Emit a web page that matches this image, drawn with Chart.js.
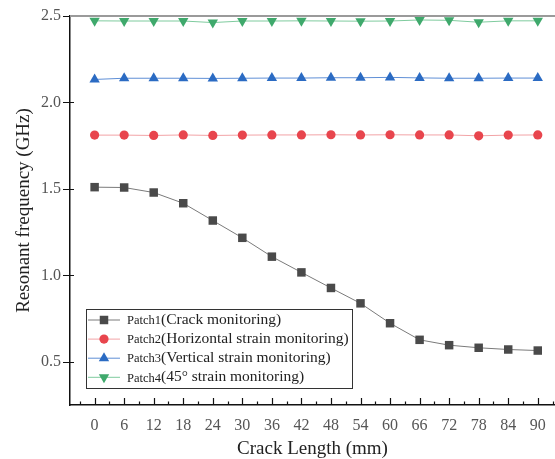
<!DOCTYPE html>
<html>
<head>
<meta charset="utf-8">
<script src="https://cdn.jsdelivr.net/npm/chart.js@4.4.0/dist/chart.umd.min.js"></script>
<style>
html, body { margin: 0; padding: 0; background: #fff; }
#wrap { width: 555px; height: 459px; }
</style>
</head>
<body>
<div id="wrap"><canvas id="myChart" width="555" height="459"></canvas></div>
<script>
// Crack length (mm) on the x axis
const crackLength = [0, 6, 12, 18, 24, 30, 36, 42, 48, 54, 60, 66, 72, 78, 84, 90];

// Resonant frequency (GHz) of each patch
const patch1 = [1.51, 1.508, 1.479, 1.417, 1.317, 1.217, 1.108, 1.017, 0.927, 0.838, 0.723, 0.627, 0.596, 0.581, 0.571, 0.565];
const patch2 = [1.811, 1.811, 1.809, 1.812, 1.809, 1.811, 1.812, 1.812, 1.813, 1.812, 1.813, 1.812, 1.812, 1.807, 1.811, 1.812];
const patch3 = [2.133, 2.14, 2.14, 2.14, 2.139, 2.14, 2.141, 2.141, 2.143, 2.143, 2.145, 2.142, 2.14, 2.14, 2.141, 2.141];
const patch4 = [2.472, 2.471, 2.471, 2.471, 2.462, 2.471, 2.471, 2.472, 2.471, 2.47, 2.471, 2.477, 2.475, 2.464, 2.472, 2.472];

const seriesNames = [
    'Patch1(Crack monitoring)',
    'Patch2(Horizontal strain monitoring)',
    'Patch3(Vertical strain monitoring)',
    'Patch4(45° strain monitoring)'
];

const yTicks = [0.5, 1.0, 1.5, 2.0, 2.5];

const serif = "'Liberation Serif', 'DejaVu Serif', serif";

function points(values) {
    return values.map((v, i) => ({ x: crackLength[i], y: v }));
}

// ticks, top frame line and the boxed legend drawn by hand
const extras = {
    id: 'extras',
    afterDraw(chart) {
        const { ctx, chartArea: a, scales: { x, y } } = chart;
        ctx.save();

        // top frame line (grey)
        ctx.strokeStyle = '#9a9a9a';
        ctx.lineWidth = 2;
        ctx.beginPath();
        ctx.moveTo(a.left, a.top);
        ctx.lineTo(a.right, a.top);
        ctx.stroke();

        ctx.strokeStyle = '#111';
        ctx.lineWidth = 1.2;
        ctx.beginPath();
        // y: major ticks outward, minor ticks inward
        yTicks.forEach((v) => {
            const py = Math.round(y.getPixelForValue(v)) + 0.5;
            ctx.moveTo(a.left - 7, py);
            ctx.lineTo(a.left, py);
        });
        for (let v = y.min + 0.25; v < y.max; v += 0.5) {
            const py = Math.round(y.getPixelForValue(v)) + 0.5;
            ctx.moveTo(a.left, py);
            ctx.lineTo(a.left + 4, py);
        }
        // x: major and minor ticks inward
        crackLength.forEach((v) => {
            const px = Math.round(x.getPixelForValue(v)) + 0.5;
            ctx.moveTo(px, a.bottom);
            ctx.lineTo(px, a.bottom - 7);
        });
        for (let v = -3; v < x.max; v += 6) {
            const px = Math.round(x.getPixelForValue(v)) + 0.5;
            ctx.moveTo(px, a.bottom);
            ctx.lineTo(px, a.bottom - 3.5);
        }
        ctx.stroke();

        // legend box
        const bx = a.left + 16, by = 309, bw = 266, bh = 79;
        ctx.fillStyle = '#fff';
        ctx.fillRect(bx, by, bw, bh);
        ctx.strokeStyle = '#333';
        ctx.lineWidth = 1;
        ctx.strokeRect(bx + 0.5, by + 0.5, bw, bh);

        chart.data.datasets.forEach((ds, i) => {
            const cy = by + 11 + i * 19.1;
            ctx.strokeStyle = ds.borderColor;
            ctx.lineWidth = 1;
            ctx.beginPath();
            ctx.moveTo(bx + 2, cy);
            ctx.lineTo(bx + 34, cy);
            ctx.stroke();
            ctx.fillStyle = ds.pointBackgroundColor;
            ctx.strokeStyle = ds.pointBackgroundColor;
            Chart.helpers.drawPoint(ctx, {
                pointStyle: ds.pointStyle,
                radius: ds.pointRadius,
                rotation: ds.pointRotation || 0,
                borderWidth: 0
            }, bx + 18, cy);

            const cut = ds.label.indexOf('(');
            const head = ds.label.slice(0, cut);
            const tail = ds.label.slice(cut);
            ctx.fillStyle = '#222';
            ctx.textBaseline = 'middle';
            ctx.textAlign = 'left';
            ctx.font = '12.5px ' + serif;
            ctx.fillText(head, bx + 41, cy + 1);
            const w = ctx.measureText(head).width;
            ctx.font = '15.5px ' + serif;
            ctx.fillText(tail, bx + 41 + w, cy);
        });

        ctx.restore();
    }
};

const ctx = document.getElementById('myChart').getContext('2d');

const myChart = new Chart(ctx, {
    type: 'line',
    data: {
        datasets: [{
            label: seriesNames[0],
            data: points(patch1),
            borderColor: '#7a7a7a',
            pointBackgroundColor: '#4a4a4a',
            pointBorderColor: '#4a4a4a',
            pointStyle: 'rect',
            pointRadius: 6
        }, {
            label: seriesNames[1],
            data: points(patch2),
            borderColor: '#f2a3a6',
            pointBackgroundColor: '#e8454d',
            pointBorderColor: '#e8454d',
            pointStyle: 'circle',
            pointRadius: 4.6
        }, {
            label: seriesNames[2],
            data: points(patch3),
            borderColor: '#5f8fd6',
            pointBackgroundColor: '#2b6bc3',
            pointBorderColor: '#2b6bc3',
            pointStyle: 'triangle',
            pointRadius: 6
        }, {
            label: seriesNames[3],
            data: points(patch4),
            borderColor: '#7fcb9e',
            pointBackgroundColor: '#3fa96c',
            pointBorderColor: '#3fa96c',
            pointStyle: 'triangle',
            pointRotation: 180,
            pointRadius: 6
        }]
    },
    options: {
        responsive: false,
        animation: false,
        layout: { autoPadding: false, padding: { top: 16, right: 0, left: 0, bottom: 0 } },
        datasets: {
            line: { borderWidth: 1, pointBorderWidth: 0, tension: 0, clip: false }
        },
        plugins: {
            legend: { display: false },
            tooltip: { enabled: false }
        },
        scales: {
            x: {
                type: 'linear',
                min: -5,
                max: 93.5,
                afterBuildTicks: (axis) => { axis.ticks = crackLength.map((v) => ({ value: v })); },
                afterFit: (axis) => {
                    axis.height = 54;
                    axis.paddingLeft = 0;
                    axis.paddingRight = 0;
                },
                grid: { display: false, drawTicks: false },
                border: { display: true, color: '#111', width: 1.5 },
                ticks: {
                    padding: 11,
                    color: '#555',
                    font: { family: serif, size: 16 },
                    callback: (v) => String(v)
                },
                title: {
                    display: true,
                    text: 'Crack Length (mm)',
                    color: '#222',
                    font: { family: serif, size: 19, lineHeight: 1 },
                    padding: { top: 0, bottom: 0 }
                }
            },
            y: {
                min: 0.25,
                max: 2.5,
                afterBuildTicks: (axis) => { axis.ticks = yTicks.map((v) => ({ value: v })); },
                afterFit: (axis) => {
                    axis.width = 70;
                    axis.paddingTop = 0;
                    axis.paddingBottom = 0;
                },
                grid: { display: false, drawTicks: false },
                border: { display: true, color: '#111', width: 1.5 },
                ticks: {
                    padding: 9,
                    color: '#555',
                    font: { family: serif, size: 16 },
                    callback: (v) => v.toFixed(1)
                },
                title: {
                    display: true,
                    text: 'Resonant frequency (GHz)',
                    color: '#222',
                    font: { family: serif, size: 19, lineHeight: 1 },
                    padding: { top: 15, bottom: 0 }
                }
            }
        }
    },
    plugins: [extras]
});
</script>
</body>
</html>
